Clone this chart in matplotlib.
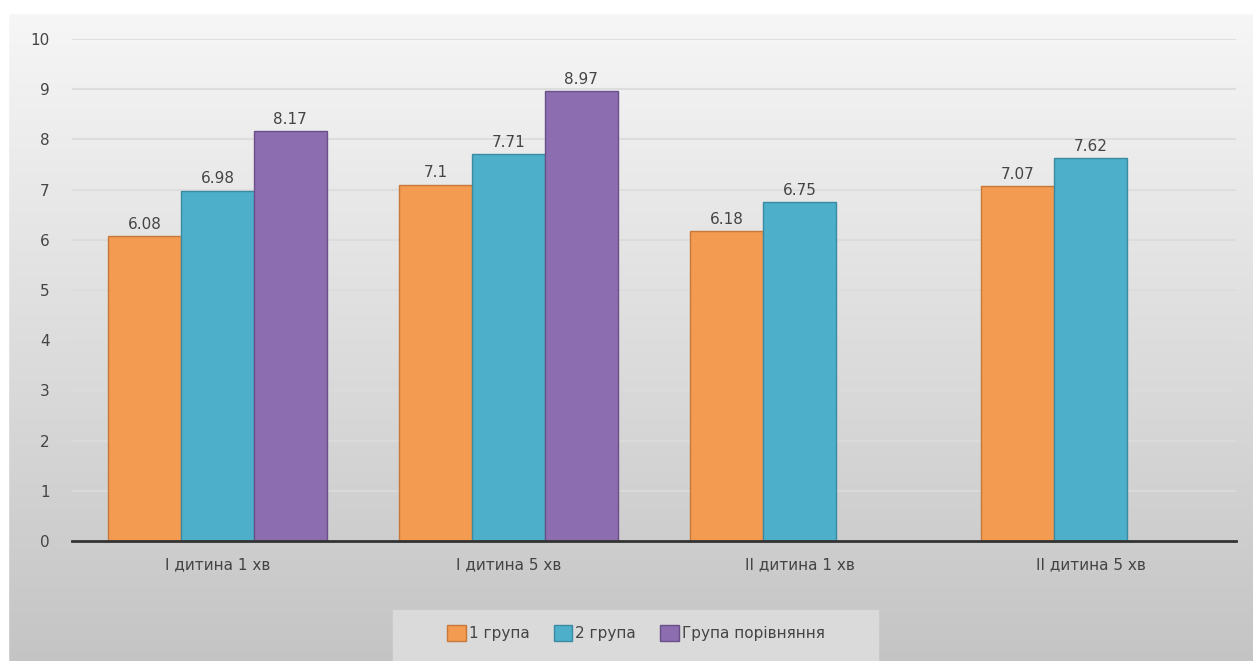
import numpy as np
import matplotlib.pyplot as plt
from matplotlib.patches import Rectangle

categories = ["I дитина 1 хв", "I дитина 5 хв", "II дитина 1 хв", "II дитина 5 хв"]
series_names = ["1 група", "2 група", "Група порівняння"]
group1 = [6.08, 7.10, 6.18, 7.07]
group2 = [6.98, 7.71, 6.75, 7.62]
group_cmp = [8.17, 8.97, None, None]
labels1 = ["6.08", "7.1", "6.18", "7.07"]
labels2 = ["6.98", "7.71", "6.75", "7.62"]
labels_cmp = ["8.17", "8.97"]

colors = ["#F39B50", "#4DAFCA", "#8C6DAF"]
edges = ["#C8783A", "#3A8AA2", "#6A5088"]
text_color = "#444444"

fig = plt.figure(figsize=(12.53, 6.61), dpi=100)

# gradient background of the chart
bg = fig.add_axes([0, 0, 1, 1], zorder=0)
grad = np.linspace(0.97, 0.77, 256).reshape(-1, 1)
bg.imshow(np.dstack([grad, grad, grad]), aspect="auto", extent=[0, 1, 0, 1])
bg.set_xlim(0, 1)
bg.set_ylim(0, 1)
bg.axis("off")
# white border on top and left
bg.add_patch(Rectangle((0, 1 - 13 / 661), 1, 13 / 661, color="white"))
bg.add_patch(Rectangle((0, 0), 8 / 1253, 1, color="white"))
# lighter legend box
bg.add_patch(Rectangle((393 / 1253, 0), 485 / 1253, 51 / 661, color="#dadada"))

ax = fig.add_axes([72 / 1253, 120 / 661, 1164 / 1253, 502 / 661], zorder=1)
ax.patch.set_alpha(0)

x = np.arange(len(categories))
w = 0.25
bars1 = ax.bar(x - w, group1, w, color=colors[0], edgecolor=edges[0], linewidth=1, label=series_names[0])
bars2 = ax.bar(x, group2, w, color=colors[1], edgecolor=edges[1], linewidth=1, label=series_names[1])
cmp_x = [x[i] + w for i, v in enumerate(group_cmp) if v is not None]
cmp_v = [v for v in group_cmp if v is not None]
bars3 = ax.bar(cmp_x, cmp_v, w, color=colors[2], edgecolor=edges[2], linewidth=1, label=series_names[2])

for bars, labs in [(bars1, labels1), (bars2, labels2), (bars3, labels_cmp)]:
    ax.bar_label(bars, labels=labs, padding=3, fontsize=11, color=text_color)

ax.set_xlim(-0.5, 3.5)
ax.set_ylim(0, 10)
ax.set_yticks(range(0, 11))
ax.set_xticks(x)
ax.set_xticklabels(categories)
ax.tick_params(axis="both", length=0, labelsize=11, colors=text_color)
ax.tick_params(axis="y", pad=16)
ax.tick_params(axis="x", pad=12)
ax.grid(axis="y", color="#dcdcdc", linewidth=1.3)
ax.set_axisbelow(True)
for s in ["top", "right", "left"]:
    ax.spines[s].set_visible(False)
ax.spines["bottom"].set_color("#333333")
ax.spines["bottom"].set_linewidth(2)

leg = fig.legend(loc="center", bbox_to_anchor=(636 / 1253, 1 - 633 / 661), ncol=3,
                 frameon=False, fontsize=11, handlelength=1.2, handleheight=1.2,
                 handletextpad=0.2, columnspacing=1.6)
for t in leg.get_texts():
    t.set_color(text_color)

fig.savefig("out.png", dpi=100)
